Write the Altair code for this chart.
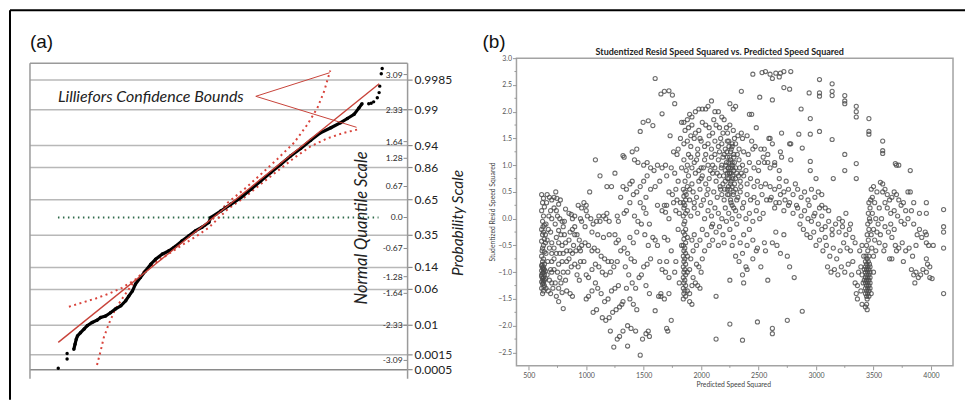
import altair as alt
import pandas as pd

# ---------------- Panel (a): normal probability plot ----------------
qq_x = [-2.29, -2.27, -2.25, -2.23, -2.18, -2.12, -2.07, -1.99, -1.91, -1.85, -1.77, -1.69,
        -1.61, -1.52, -1.44, -1.39, -1.33, -1.28, -1.20, -1.12, -1.03, -0.95, -0.84, -0.73,
        -0.62, -0.52, -0.41, -0.30, -0.19, -0.08, -0.047, 0.117, 0.28, 0.444, 0.61, 0.77,
        0.935, 1.10, 1.26, 1.425, 1.59, 1.75, 1.92, 2.08, 2.19, 2.30, 2.38, 2.43]
qq_z = [-2.85, -2.74, -2.63, -2.56, -2.49, -2.41, -2.34, -2.27, -2.22, -2.16, -2.13, -2.06,
        -1.98, -1.91, -1.80, -1.70, -1.59, -1.44, -1.30, -1.16, -1.01, -0.90, -0.79, -0.72,
        -0.62, -0.51, -0.40, -0.29, -0.21, -0.11, 0.0, 0.14, 0.285, 0.43, 0.61, 0.79,
        0.97, 1.15, 1.33, 1.49, 1.67, 1.83, 1.94, 2.05, 2.14, 2.23, 2.37, 2.46]
tail_x = [-2.545, -2.40, -2.40, 2.54, 2.58, 2.62, 2.68, 2.71, 2.72, 2.745, 2.76]
tail_z = [-3.26, -3.06, -2.94, 2.46, 2.47, 2.50, 2.59, 2.70, 2.84, 3.11, 3.22]
ref_x = [-2.545, 2.71]
ref_z = [-2.70, 2.89]
upper_x = [-2.37, -2.15, -1.93, -1.72, -1.50, -1.28, -1.12, -0.95, -0.73, -0.52, -0.30, -0.08,
           0.23, 0.50, 0.77, 1.04, 1.32, 1.535, 1.70, 1.81, 1.91]
upper_z = [-1.93, -1.84, -1.75, -1.65, -1.52, -1.34, -1.14, -0.94, -0.70, -0.51, -0.31, -0.13,
           0.32, 0.61, 0.93, 1.26, 1.62, 2.01, 2.37, 2.73, 3.18]
lower_x = [-1.91, -1.85, -1.80, -1.72, -1.61, -1.47, -1.33, -1.17, -0.95, -0.73, -0.52, -0.30,
           -0.08, 0.23, 0.50, 0.77, 1.04, 1.32, 1.59, 1.86, 2.13, 2.35]
lower_z = [-3.19, -2.88, -2.60, -2.31, -1.98, -1.70, -1.44, -1.23, -0.98, -0.78, -0.60, -0.42,
           -0.22, 0.18, 0.43, 0.72, 1.00, 1.29, 1.54, 1.71, 1.83, 1.90]
zero_x = [-2.55, 2.70]
zero_z = [0.0, 0.0]
annot_x = [1.90, 0.69, 2.34]
annot_z = [3.13, 2.62, 1.95]
quant_vals = [3.09, 2.33, 1.64, 1.28, 0.67, 0.0, -0.67, -1.28, -1.64, -2.33, -3.09]
quant_text = ["3.09", "2.33", "1.64", "1.28", "0.67", "0.0", "-0.67", "-1.28", "-1.64", "-2.33", "-3.09"]
prob_vals = [2.97, 2.33, 1.555, 1.08, 0.385, -0.385, -1.08, -1.555, -2.33, -2.97, -3.29]
prob_text = ["0.9985", "0.99", "0.94", "0.86", "0.65", "0.35", "0.14", "0.06", "0.01", "0.0015", "0.0005"]

# ---------------- Panel (b): residual scatter ----------------
left_band = [(612,0.45),(628,0.38),(620,0.30),(636,0.22),(612,0.15),(628,0.05),(620,-0.05),(636,-0.12),
             (612,-0.20),(628,-0.25),(620,-0.30),(636,-0.38),(612,-0.42),(628,-0.50),(620,-0.55),(636,-0.62),
             (612,-0.70),(628,-0.75),(620,-0.80),(636,-0.85),(612,-0.88),(628,-0.90),(620,-0.92),(636,-0.95),
             (612,-0.97),(628,-1.00),(620,-1.02),(636,-1.05),(612,-1.08),(628,-1.10),(620,-1.12),(636,-1.15),
             (612,-1.18),(628,-1.20),(620,-1.22),(636,-1.25),(612,-1.30),(628,-1.35),(620,-1.40),(645,-0.98),
             (645,-1.12),(645,-0.30),(645,-0.45),(612,-1.05),(628,-0.95),(616,-0.86),(624,-1.16),(632,-1.28),
             (616,-0.60),(624,-0.15)]
left_cloud = [(660,0.45),(680,0.40),(700,0.35),(655,0.30),(690,0.15),(675,0.05),(700,0.00),(650,-0.10),
              (670,-0.20),(690,-0.25),(660,-0.40),(700,-0.45),(680,-0.55),(650,-0.65),(700,-0.65),(665,-0.80),
              (690,-0.95),(700,-1.00),(660,-1.05),(680,-1.15),(700,-1.20),(650,-1.30),(670,-1.35),(690,-1.40),
              (710,-1.30),(735,0.50),(760,0.27),(740,0.15),(720,0.20),(750,0.05),(770,0.00),(790,-0.05),
              (730,-0.10),(760,-0.22),(800,-0.15),(820,0.18),(850,0.10),(780,-0.30),(810,-0.30),(740,-0.35),
              (760,-0.45),(790,-0.50),(820,-0.45),(850,-0.40),(880,-0.20),(900,-0.15),(920,-0.30),(860,-0.60),
              (830,-0.60),(800,-0.65),(770,-0.65),(740,-0.65),(720,-0.55),(880,-0.65),(910,-0.60),(940,-0.55),
              (720,-0.95),(750,-1.00),(770,-1.10),(800,-1.00),(730,-1.20),(760,-1.30),(790,-1.38),(830,-1.35),
              (860,-1.40),(880,-1.45),(760,-1.55),(800,-1.68),(740,-1.45),(900,-0.85),(930,-0.90),(870,-0.90),
              (840,-1.00),(900,-0.30),(940,-0.40),(950,-0.60),(950,-0.80),(920,-1.05),(940,-1.15),(900,0.05),
              (930,0.25),(880,0.00),(860,-0.25),(950,0.00),(830,-0.80),(790,-0.80),(720,-0.75),(700,-0.80),
              (850,-0.75),(720,0.40),(745,0.38),(775,0.35),(810,-0.05),(870,0.08),(890,-0.50),(760,-0.85),
              (780,-1.20),(820,-1.15)]
mid_left = [(960,0.20),(980,0.30),(1000,0.25),(1030,0.50),(1080,1.10),(1120,0.80),(1180,0.60),(1220,0.60),
            (960,-0.05),(990,-0.15),(1010,0.05),(1040,0.00),(1060,-0.10),(1090,-0.05),(1120,-0.05),(1150,0.05),
            (1180,0.10),(1200,-0.05),(960,-0.50),(990,-0.45),(1020,-0.50),(1050,-0.60),(1070,-0.55),(1100,-0.60),
            (1130,-0.70),(1160,-0.75),(1190,-0.80),(1220,-0.80),(1250,-0.30),(1260,-0.45),(1280,-0.40),(1300,-0.60),
            (980,-0.80),(1000,-1.05),(1020,-1.10),(1050,-0.95),(1080,-0.85),(1110,-0.90),(1140,-1.00),(1170,-1.05),
            (1210,-1.00),(1240,-0.90),(1270,-0.80),(1000,-1.50),(1020,-1.45),(1050,-1.35),(1080,-1.20),(1100,-1.30),
            (1130,-1.40),(1160,-1.55),(1190,-1.50),(1220,-1.35),(1250,-1.30),(1280,-1.25),(1060,-1.75),(1090,-1.70),
            (1140,-1.85),(1170,-1.90),(1200,-1.85),(1230,-1.75),(1260,-1.70),(1290,-1.65),(1210,-2.10),(1240,-2.40),
            (1270,-2.25),(1290,-2.20),(1320,-2.10),(1310,-1.60),(1320,-1.55),(1050,-0.25),(1100,-0.30),(1150,-0.35),
            (1200,-0.30),(1000,0.15),(1270,0.05),(1300,0.40),(1320,0.60),(1250,0.85),(1320,1.18),(1110,0.05),
            (1170,0.00),(1280,-0.05)]
mid = [(1330,-0.55),(1360,-0.65),(1390,-0.75),(1420,-0.80),(1340,-0.90),(1370,-1.05),(1400,-1.20),(1430,-1.30),
       (1460,-1.10),(1350,-1.30),(1380,-1.50),(1410,-1.60),(1440,-1.70),(1360,-2.00),(1390,-2.05),(1430,-2.10),
       (1360,-2.38),(1470,-2.55),(1490,-2.25),(1520,-2.15),(1550,-2.20),(1540,-2.10),(1330,0.10),(1350,0.15),
       (1380,0.30),(1410,0.45),(1440,0.50),(1470,0.60),(1500,0.70),(1530,0.80),(1350,0.55),(1380,0.65),
       (1400,0.70),(1420,1.10),(1450,1.05),(1400,1.25),(1440,1.30),(1330,1.15),(1470,1.63),(1495,1.80),
       (1540,1.83),(1580,1.74),(1600,2.62),(1500,1.00),(1530,1.05),(1560,0.95),(1590,0.90),(1620,1.00),
       (1470,0.30),(1500,0.20),(1520,0.10),(1550,-0.10),(1580,-0.35),(1600,-0.40),(1620,-0.50),(1640,-0.80),
       (1450,-0.05),(1480,-0.10),(1510,-0.30),(1540,-0.50),(1500,-0.90),(1530,-0.85),(1560,-0.75),(1480,-1.05),
       (1520,-1.25),(1550,-1.40),(1600,-1.72),(1630,-1.45),(1650,-1.40),(1420,0.05),(1440,-0.25),(1380,-0.35),
       (1410,-0.45),(1600,0.60),(1560,0.55),(1520,0.40),(1640,0.70),(1620,0.25)]
mid_right = [(1650,2.33),(1680,2.38),(1720,2.39),(1750,2.31),(1770,2.15),(1660,1.96),(1730,1.55),(1690,1.00),
             (1660,0.95),(1700,0.80),(1740,0.95),(1770,0.85),(1800,0.70),(1720,0.50),(1750,0.45),(1780,0.55),
             (1680,0.25),(1700,0.25),(1660,0.15),(1690,0.12),(1720,0.00),(1760,0.30),(1790,0.35),(1820,0.30),
             (1680,-0.35),(1710,-0.40),(1740,-0.60),(1780,-0.80),(1700,-0.80),(1660,-0.95),(1690,-1.00),(1720,-1.10),
             (1650,-1.45),(1680,-1.50),(1720,-1.40),(1740,-1.90),(1700,-2.05),(1710,-2.10),(1800,1.30),(1820,1.50),
             (1790,1.20),(1830,0.95),(1810,0.10),(1800,-0.20),(1830,-0.50),(1770,-1.00),(1810,-1.20),(1760,1.25),
             (1830,1.80),(1780,0.15)]
band_1850 = [(1845,0.55),(1860,0.50),(1850,0.42),(1865,0.35),(1845,0.30),(1858,0.25),(1850,0.20),(1865,0.10),
             (1845,0.05),(1858,-0.05),(1850,-0.10),(1865,-0.20),(1845,-0.25),(1858,-0.30),(1850,-0.38),(1865,-0.45),
             (1845,-0.50),(1858,-0.55),(1850,-0.60),(1865,-0.65),(1845,-0.70),(1858,-0.75),(1850,-0.80),(1865,-0.85),
             (1845,-0.90),(1858,-0.95),(1850,-1.00),(1865,-1.05),(1845,-1.10),(1858,-1.15),(1850,-1.20),(1865,-1.25),
             (1845,-1.30),(1858,-1.35),(1850,-1.40),(1865,-1.45),(1845,-1.50),(1880,-1.35),(1900,-1.40),(1920,-1.25),
             (1880,-1.00),(1900,-0.95),(1930,-1.10),(1950,-1.20),(1880,-0.70),(1910,-0.75),(1930,-0.60),(1880,-0.35),
             (1920,-0.40),(1940,-0.30),(1960,-0.85),(1980,-0.90),(2000,-1.00),(1990,-1.30),(1920,-1.60),(1900,-1.55),
             (1970,-1.25),(2010,-0.75),(2030,-0.60),(1960,-0.50),(1990,-0.40),(2010,-0.20),(2050,-0.30),(2070,-0.50),
             (2090,-0.15),(2100,-0.40)]
center = [(1850,1.80),(1880,1.85),(1900,1.95),(1920,1.90),(1950,2.00),(1980,2.05),(2010,2.05),(2040,2.05),
          (2060,2.10),(2090,2.20),(2120,2.00),(2150,2.00),(2180,1.90),(2200,1.85),(2250,2.15),(2300,2.10),
          (2280,2.05),(2350,2.38),(2420,1.95),(2350,1.60),
          (1860,1.65),(1890,1.70),(1920,1.75),(1950,1.60),(1980,1.65),(2010,1.80),(2040,1.75),(2070,1.70),
          (2100,1.60),(2130,1.75),(2160,1.70),(2190,1.60),(2220,1.70),(2250,1.75),(2280,1.65),(2320,1.55),
          (2360,1.50),(2400,1.55),(2440,1.45),(2470,1.35),(2520,1.30),(2550,1.30),
          (1850,1.40),(1880,1.45),(1910,1.35),(1940,1.50),(1970,1.30),(2000,1.45),(2030,1.35),(2060,1.40),
          (2090,1.30),(2120,1.45),(2150,1.35),(2180,1.40),(2210,1.30),(2240,1.45),(2270,1.35),(2300,1.40),
          (2330,1.30),(2370,1.25),(2410,1.20),(2450,1.30),(2500,1.05),(2540,1.15),(2580,1.20),(2600,1.50),
          (2620,1.40),(2690,1.25),(2700,1.15),(2780,1.40),
          (1850,1.10),(1880,1.00),(1910,1.15),(1940,1.05),(1970,1.20),(2000,0.95),(2030,1.10),(2060,1.00),
          (2090,1.15),(2120,0.95),(2150,1.10),(2180,1.00),(2200,1.20),(2220,1.05),(2240,0.95),(2255,1.10),
          (2270,1.00),(2285,1.15),(2300,0.95),(2330,1.10),(2360,1.00),(2390,0.90),(2420,1.05),(2460,0.95),
          (2500,0.90),(2550,1.05),(2600,0.95),(2640,1.00),(2680,0.90),
          (1860,0.70),(1890,0.80),(1920,0.65),(1950,0.85),(1980,0.70),(2010,0.80),(2040,0.65),(2070,0.75),
          (2100,0.85),(2130,0.70),(2160,0.80),(2190,0.65),(2210,0.90),(2230,0.75),(2245,0.85),(2260,0.70),
          (2275,0.80),(2290,0.65),(2310,0.85),(2340,0.70),(2370,0.80),(2400,0.65),(2430,0.75),(2460,0.60),
          (2490,0.70),(2520,0.60),(2560,0.65),(2600,0.60),(2640,0.55),(2680,0.60),(2720,0.50),(2760,0.55),
          (1870,0.45),(1900,0.35),(1930,0.50),(1960,0.40),(1990,0.55),(2020,0.35),(2050,0.45),(2080,0.30),
          (2110,0.50),(2140,0.40),(2170,0.55),(2200,0.35),(2230,0.45),(2250,0.55),(2260,0.30),(2280,0.45),
          (2310,0.35),(2340,0.50),(2370,0.30),(2400,0.45),(2430,0.35),(2460,0.40),(2490,0.30),(2530,0.45),
          (2570,0.35),(2610,0.40),(2650,0.30),(2690,0.45),(2730,0.35),(2770,0.30),
          (1880,0.15),(1910,0.05),(1940,0.20),(1970,0.10),(2000,0.25),(2030,0.00),(2060,0.15),(2090,0.05),
          (2120,0.20),(2150,0.10),(2180,0.00),(2210,0.20),(2240,0.10),(2270,0.00),(2300,0.15),(2330,0.05),
          (2360,0.20),(2390,0.00),(2420,0.10),(2450,-0.05),(2480,0.15),(2510,0.00),(2540,0.10)]
center_core = [(2160,1.25),(2175,0.95),(2190,1.15),(2205,0.55),(2215,1.00),(2225,1.25),(2238,0.60),(2250,0.85),
               (2262,1.30),(2275,0.95),(2290,1.05),(2300,0.55),(2315,1.20),(2325,0.80),(2335,0.95),(2345,0.60),
               (2195,0.80),(2210,0.70),(2165,0.60),(2180,0.45),(2300,0.75),(2320,0.40),(2350,0.85),(2140,0.85),
               (2120,1.20),(2100,1.00),(2080,0.90),(2060,0.55),(2040,1.20),(2020,0.95),(2000,0.75),(1980,0.90),
               (1960,1.10),(1940,0.30),(1920,0.95),(1900,0.55),(1890,1.20),(1870,0.90),(1880,0.60),(1910,1.55),
               (1990,1.50),(2070,1.55),(2110,1.85),(2170,1.50),(2230,1.60),(2290,1.50)]
center_stripe = [(2228,1.45),(2242,1.35),(2256,1.25),(2270,1.40),(2284,1.20),(2228,1.15),(2242,1.05),(2256,0.95),
                 (2270,1.05),(2284,0.90),(2228,0.85),(2242,0.75),(2256,0.65),(2270,0.60),(2284,0.50),(2228,0.55),
                 (2242,0.45),(2256,0.35),(2270,0.25),(2284,0.20),(2235,0.95),(2262,0.85),(2248,1.15),(2276,0.75)]
center_low = [(2100,-0.10),(2130,-0.25),(2160,-0.15),(2190,-0.30),(2220,-0.05),(2250,-0.20),(2280,-0.35),(2310,-0.10),
              (2340,-0.45),(2370,-0.30),(2400,-0.50),(2420,-0.20),(2450,-0.40),(2480,-0.60),(2360,-0.65),(2330,-0.80),
              (2300,-0.70),(2270,-0.50),(2200,-0.45),(2150,-0.50),(2390,-0.90),(2360,-1.05),(2400,-0.95),(2370,-1.20),
              (2250,-1.15),(2130,-1.45),(2250,-1.97),(2130,-2.25),(2360,-2.27),(2490,-1.93),(2620,-2.05),(2620,-2.15),
              (2750,-1.90),(2880,-1.73),(2580,-1.15),(2490,-0.55),(2520,-0.90),(2450,-0.75),(2550,-0.45),(2560,-0.60),
              (2620,-0.45),(2650,-0.25),(2690,-0.65),(2750,-0.70),(2770,-0.90),(2810,-1.10),(2720,-0.30),(2660,-0.50)]
right_mid = [(2600,0.35),(2640,0.20),(2680,0.30),(2720,0.15),(2760,0.25),(2800,0.10),(2840,0.20),(2870,0.05),
             (2900,0.15),(2930,0.00),(2960,-0.05),(2990,0.10),(3020,-0.10),(3050,0.05),(3080,-0.15),(3110,-0.05),
             (3140,-0.20),(3170,-0.10),(3200,-0.25),(3230,-0.15),(3260,-0.30),(2800,0.45),(2840,0.55),(2870,0.40),
             (2900,0.50),(2930,0.35),(2960,0.55),(2990,0.40),(3020,0.50),(3050,0.25),(3080,0.20),(3110,0.15),
             (2830,0.25),(2860,-0.10),(2890,-0.20),(2920,-0.30),(2950,-0.35),(2980,-0.25),(3000,-0.50),(3030,-0.40),
             (3060,-0.60),(3090,-0.50),(3120,-0.70),(3150,-0.55),(3180,-0.75),(3210,-0.60),(3240,-0.45),(3270,-0.55),
             (3300,-0.60),(3320,-0.80),(3100,-0.90),(3130,-1.00),(3160,-0.95),(3190,-1.05),(3220,-0.90),(3250,-1.00),
             (3280,-0.85),(3310,-1.05),(3200,0.00),(3230,-0.05),(3260,0.10),(3290,-0.20),(3320,-0.35),(3340,-0.45),
             (3340,-1.20),(3350,-1.40),(3360,-1.50),(2950,0.90),(3000,0.75),(3050,0.45),(3150,0.75),(3250,1.20),
             (3250,0.90),(3350,0.75),(3350,1.03),(2980,0.05),(3080,-0.35),(3140,-0.30),(3300,-0.10),(3050,-0.20),
             (2940,0.25),(3030,0.20)]
top_arc = [(2450,2.70),(2480,1.70),(2510,2.27),(2530,2.73),(2560,2.75),(2600,2.70),(2620,2.62),(2650,2.72),
           (2680,2.65),(2720,2.75),(2720,2.45),(2620,2.22),(2850,1.58),(2870,2.05),(2880,1.32),(2950,1.87),
           (2950,1.58),(2950,1.07),(2940,2.35),(3030,2.60),(3030,2.35),(3030,2.29),(3030,1.63),(3140,2.52),
           (3140,2.38),(3140,2.30),(3140,1.48),(3250,2.30),(3250,2.20),(3250,2.15),(3350,2.10),(3350,2.00),
           (3350,1.90),(3460,1.87),(3460,1.63),(3460,1.58),(3580,1.45),(3580,1.27),(3580,1.22),(3690,1.03),
           (3700,1.00),(3820,0.90),(2770,2.42),(2780,2.75),(2690,2.72),(2440,1.95),(2700,1.60),(2590,1.50),
           (2770,1.40),(2780,1.10),(2640,1.05),(2580,1.05),(2740,0.70),(2680,0.75),(2820,0.65)]
band_3450 = [(3475,0.35),(3460,0.30),(3470,0.20),(3455,0.10),(3465,0.00),(3450,-0.10),(3460,-0.20),(3445,-0.30),
             (3455,-0.40),(3440,-0.50),(3450,-0.60),(3435,-0.70),(3460,-0.70),(3445,-0.75),(3430,-0.80),(3455,-0.80),
             (3440,-0.85),(3465,-0.85),(3430,-0.90),(3450,-0.90),(3470,-0.90),(3440,-0.95),(3460,-0.95),(3430,-1.00),
             (3450,-1.00),(3470,-1.00),(3440,-1.05),(3460,-1.05),(3430,-1.10),(3450,-1.10),(3470,-1.10),(3440,-1.15),
             (3460,-1.15),(3430,-1.20),(3450,-1.20),(3470,-1.20),(3440,-1.25),(3460,-1.25),(3430,-1.30),(3450,-1.30),
             (3470,-1.30),(3440,-1.35),(3460,-1.35),(3430,-1.40),(3450,-1.40),(3440,-1.45),(3460,-1.45),(3445,-1.50),
             (3440,-1.60),(3445,-1.70),(3390,-0.90),(3400,-1.05),(3410,-1.20),(3390,-1.35),(3380,-0.60),(3400,-0.50),
             (3370,-1.00),(3360,-1.25),(3500,-0.20),(3510,-0.40),(3500,-0.70),(3520,-0.60),(3490,0.40),(3510,0.30),
             (3530,0.50),(3550,0.20),(3520,0.00),(3540,-0.10),(3560,-0.30),(3500,-1.00),(3400,-1.60),(3430,-1.65),
             (3470,-0.05),(3490,0.10),(3480,0.55),(3500,0.60),(3560,0.68),(3580,0.50),(3420,-0.95),(3480,-0.30),
             (3485,-0.55),(3420,-1.15),(3480,-1.40),(3415,-0.70)]
right_cluster = [(3580,0.65),(3600,0.55),(3620,0.45),(3640,0.35),(3660,0.40),(3680,0.50),(3700,0.45),(3720,0.35),
                 (3740,0.25),(3760,0.30),(3780,0.15),(3800,0.50),(3820,0.50),(3600,0.30),(3620,0.20),(3650,0.10),
                 (3680,0.15),(3710,0.05),(3740,-0.05),(3770,-0.10),(3800,0.00),(3830,0.15),(3850,-0.10),(3880,-0.30),
                 (3900,-0.20),(3920,-0.35),(3950,-0.25),(3980,-0.50),(3600,-0.15),(3630,-0.25),(3660,-0.35),(3690,-0.50),
                 (3720,-0.55),(3750,-0.45),(3780,-0.60),(3810,-0.55),(3840,-0.70),(3870,-0.50),(3600,-0.50),(3640,-0.75),
                 (3660,-0.75),(3700,-0.60),(3760,-0.80),(3830,-0.95),(3850,-1.05),(3870,-1.00),(3890,-1.10),(3910,-1.05),
                 (3930,-0.95),(3960,-1.00),(3990,-1.10),(4010,-1.12),(3860,-1.20),(3960,-0.75),(3970,-0.85),(3990,-0.90),
                 (3960,0.30),(3960,0.10),(3960,-0.45),(3960,-0.30),(4110,0.17),(4110,-0.15),(4110,-0.25),(4110,-0.55),
                 (4110,-1.40),(4020,-0.50),(3900,0.10),(3850,0.30),(3720,1.00),(3570,0.00),(3550,-0.45),(3590,-0.60),
                 (3530,-0.25),(3650,-0.10),(3680,-0.20)]
x_ticks_b = [500, 1000, 1500, 2000, 2500, 3000, 3500, 4000]
x_minor_b = [750, 1250, 1750, 2250, 2750, 3250, 3750]
y_ticks_b = [3.0, 2.5, 2.0, 1.5, 1.0, 0.5, 0.0, -0.5, -1.0, -1.5, -2.0, -2.5]
y_minor_b = [2.75, 2.25, 1.75, 1.25, 0.75, 0.25, -0.25, -0.75, -1.25, -1.75, -2.25]

# ---------------- build panel (a) ----------------
W_A, H_A = 378, 321
FONT = "Lato"
xs_a = alt.Scale(domain=[-3.008, 3.176], nice=False, zero=False)
ys_a = alt.Scale(domain=[-3.488, 3.445], nice=False, zero=False)
RED = "#c8433a"


def XA(f):
    return alt.X(f, type="quantitative", scale=xs_a, axis=None)


def YA(f):
    return alt.Y(f, type="quantitative", scale=ys_a, axis=None)


df_prob = pd.DataFrame({"z": prob_vals, "label": prob_text})
df_quant = pd.DataFrame({"z": quant_vals, "label": quant_text})

grid = alt.Chart(df_prob).mark_rule(strokeWidth=1.5).encode(
    y=YA("z"), x=alt.value(0), x2=alt.value(W_A),
    color=alt.condition("datum.label == '0.0005'", alt.value("#8a8a8a"), alt.value("#b8b8b8")))
prob_ticks = alt.Chart(df_prob).mark_rule(strokeWidth=1.2, color="#8a8a8a").encode(
    y=YA("z"), x=alt.value(W_A), x2=alt.value(W_A + 5))
prob_lbl = alt.Chart(df_prob).mark_text(align="left", baseline="middle", fontSize=12, font=FONT,
                                        color="#222").encode(
    y=YA("z"), x=alt.value(W_A + 7), text="label:N")
quant_ticks = alt.Chart(df_quant).mark_rule(strokeWidth=1, color="#8a8a8a").encode(
    y=YA("z"), x=alt.value(W_A - 4), x2=alt.value(W_A))
quant_lbl = alt.Chart(df_quant).mark_text(align="right", baseline="middle", fontSize=8.5, font=FONT,
                                          color="#2a2a2a").encode(
    y=YA("z"), x=alt.value(W_A - 5), text="label:N")

frame_top = alt.Chart(df_prob.head(1)).mark_rule(color="#9a9a9a", strokeWidth=1.5).encode(
    x=alt.value(0), x2=alt.value(W_A), y=alt.value(5))
frame_left = alt.Chart(df_prob.head(1)).mark_rule(color="#9a9a9a", strokeWidth=1.5).encode(
    x=alt.value(0), y=alt.value(5), y2=alt.value(H_A))
frame_right = alt.Chart(df_prob.head(1)).mark_rule(color="#9a9a9a", strokeWidth=1.5).encode(
    x=alt.value(W_A), y=alt.value(5), y2=alt.value(H_A))

zero_line = alt.Chart(pd.DataFrame({"x": zero_x, "z": zero_z})).mark_line(
    color="#2f6a4a", strokeWidth=2, strokeDash=[1.5, 3.5]).encode(x=XA("x"), y=YA("z"))

df_up = pd.DataFrame({"x": upper_x, "z": upper_z, "o": list(range(len(upper_x)))})
df_lo = pd.DataFrame({"x": lower_x, "z": lower_z, "o": list(range(len(lower_x)))})
up_line = alt.Chart(df_up).mark_line(color="#d9443c", strokeWidth=2, strokeDash=[2, 3.5]).encode(
    x=XA("x"), y=YA("z"), order="o:Q")
lo_line = alt.Chart(df_lo).mark_line(color="#d9443c", strokeWidth=2, strokeDash=[2, 3.5]).encode(
    x=XA("x"), y=YA("z"), order="o:Q")

df_qq = pd.DataFrame({"x": qq_x, "z": qq_z, "o": list(range(len(qq_x)))})
qq_line = alt.Chart(df_qq).mark_line(color="black", strokeWidth=3.2).encode(
    x=XA("x"), y=YA("z"), order="o:Q")
qq_pts = alt.Chart(df_qq).mark_circle(color="black", size=12, opacity=1).encode(x=XA("x"), y=YA("z"))
tail_pts = alt.Chart(pd.DataFrame({"x": tail_x, "z": tail_z})).mark_circle(
    color="black", size=12, opacity=1).encode(x=XA("x"), y=YA("z"))

ref_line = alt.Chart(pd.DataFrame({"x": ref_x, "z": ref_z})).mark_line(
    color=RED, strokeWidth=1.4).encode(x=XA("x"), y=YA("z"))
df_ann = pd.DataFrame({"x": annot_x, "z": annot_z, "o": [0, 1, 2]})
ann_line = alt.Chart(df_ann).mark_line(color=RED, strokeWidth=1).encode(
    x=XA("x"), y=YA("z"), order="o:Q")

one = pd.DataFrame({"k": [0]})
lillie = alt.Chart(one).mark_text(text="Lilliefors Confidence Bounds", align="left", baseline="middle",
                                  fontSize=16, font=FONT, fontStyle="italic", color="#222").encode(
    x=alt.value(28), y=alt.value(39))
nq_title = alt.Chart(one).mark_text(text="Normal Quantile Scale", angle=270, align="center",
                                    baseline="middle", fontSize=16.5, font=FONT, fontStyle="italic",
                                    color="#222").encode(x=alt.value(332), y=alt.value(170))
pr_title = alt.Chart(one).mark_text(text="Probability Scale", angle=270, align="center",
                                    baseline="middle", fontSize=15.5, font=FONT, fontStyle="italic",
                                    color="#222").encode(x=alt.value(428), y=alt.value(165))
lab_a = alt.Chart(one).mark_text(text="(a)", align="left", baseline="middle", fontSize=19,
                                 font="Liberation Sans", color="#111").encode(x=alt.value(0), y=alt.value(-16))
border_left = alt.Chart(one).mark_rule(color="black", strokeWidth=2).encode(
    x=alt.value(-20), y=alt.value(-48), y2=alt.value(342))
border_top = alt.Chart(one).mark_rule(color="black", strokeWidth=2).encode(
    x=alt.value(-20), x2=alt.value(936), y=alt.value(-48))

panel_a = alt.layer(
    grid, prob_ticks, quant_ticks, frame_top, frame_left, frame_right, zero_line,
    up_line, lo_line, qq_line, qq_pts, tail_pts, ref_line, ann_line,
    quant_lbl, prob_lbl, lillie, nq_title, pr_title, lab_a, border_left, border_top
).properties(width=W_A, height=H_A, view=alt.ViewBackground(stroke="transparent"))

# ---------------- build panel (b) ----------------
W_B, H_B = 437, 308
xs_b = alt.Scale(domain=[393, 4192], nice=False, zero=False)
ys_b = alt.Scale(domain=[-2.75, 3.0], nice=False, zero=False)
all_pts = (left_band + left_cloud + mid_left + mid + mid_right + band_1850 + center + center_core
           + center_stripe + center_low + right_mid + top_arc + band_3450 + right_cluster)
df_b = pd.DataFrame(all_pts, columns=["pred", "resid"])

x_axis_b = alt.Axis(values=x_ticks_b, format="d", title=None, grid=False, domain=False,
                    labelFontSize=7, labelColor="#555", labelFont=FONT,
                    tickColor="#999", tickSize=4, labelPadding=2)
y_axis_b = alt.Axis(values=y_ticks_b, format=".1f", title=None, grid=False,
                    domain=False, labelFontSize=7, labelColor="#555",
                    labelFont=FONT, tickColor="#999", tickSize=4, labelPadding=1)

scatter = alt.Chart(df_b).mark_point(shape="circle", filled=False, size=17, strokeWidth=1.1,
                                     color="#4a4a4a", opacity=0.8).encode(
    x=alt.X("pred:Q", scale=xs_b, axis=x_axis_b),
    y=alt.Y("resid:Q", scale=ys_b, axis=y_axis_b))
minor_x = alt.Chart(pd.DataFrame({"pred": x_minor_b})).mark_rule(color="#999", strokeWidth=1).encode(
    x=alt.X("pred:Q", scale=xs_b, axis=x_axis_b), y=alt.value(H_B), y2=alt.value(H_B + 2))
minor_y = alt.Chart(pd.DataFrame({"resid": y_minor_b})).mark_rule(color="#999", strokeWidth=1).encode(
    y=alt.Y("resid:Q", scale=ys_b, axis=y_axis_b), x=alt.value(0), x2=alt.value(-2))
title_b = alt.Chart(one).mark_text(text="Studentized Resid Speed Squared vs. Predicted Speed Squared",
                                   align="center", baseline="middle", fontSize=9, fontWeight="bold",
                                   font=FONT, color="#222").encode(x=alt.value(203.5), y=alt.value(-6))
xt_b = alt.Chart(one).mark_text(text="Predicted Speed Squared", align="center", baseline="middle",
                                fontSize=6.8, font=FONT, color="#444").encode(x=alt.value(217.5), y=alt.value(327))
yt_b = alt.Chart(one).mark_text(text="Studentized Resid Speed Squared", angle=270, align="center",
                                baseline="middle", fontSize=6.8, font=FONT, color="#444").encode(
    x=alt.value(-23), y=alt.value(154))
lab_b = alt.Chart(one).mark_text(text="(b)", align="left", baseline="middle", fontSize=19,
                                 font="Liberation Sans", color="#111").encode(x=alt.value(-34), y=alt.value(-16))

panel_b = alt.layer(scatter, minor_x, minor_y, title_b, xt_b, yt_b, lab_b).properties(
    width=W_B, height=H_B, view=alt.ViewBackground(stroke="#a3a3a3", strokeWidth=1.5))

chart = alt.hconcat(panel_a, panel_b, spacing=109, bounds="flush").properties(
    padding=0, background="white")

chart.save("out.html", embed_options={"renderer": "svg", "actions": False})
